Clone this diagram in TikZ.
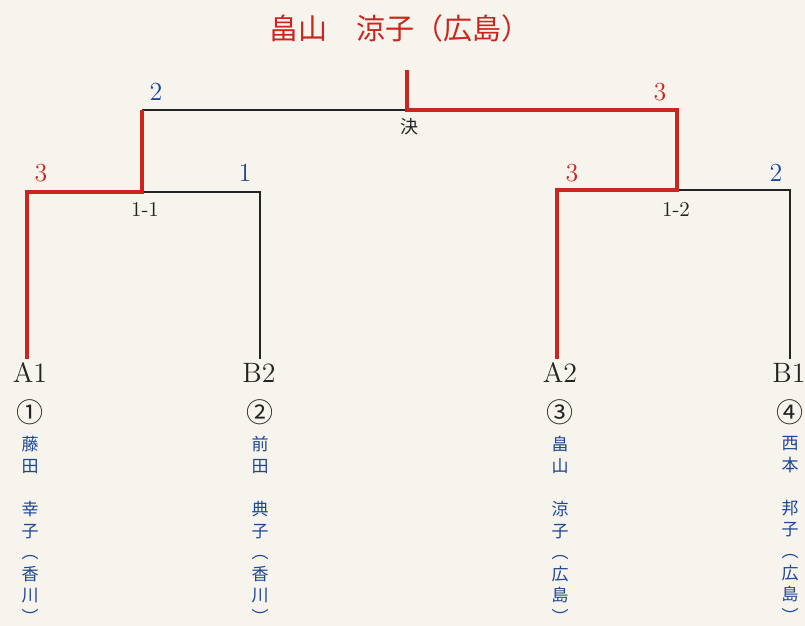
\documentclass[tikz,border=0pt]{standalone}
\usepackage{fontspec}
\newfontfamily\jfont{Noto Sans CJK JP}
\usetikzlibrary{positioning,calc}
\definecolor{paper}{RGB}{246,244,236}
\definecolor{winred}{RGB}{204,36,30}
\definecolor{ink}{RGB}{35,35,35}
\definecolor{pblue}{RGB}{28,70,150}
\tikzset{
  win/.style={draw=winred,line width=2.1pt},
  lose/.style={draw=ink,line width=0.9pt},
  seed/.style={font=\fontsize{14}{16}\selectfont,text=ink,inner sep=2pt},
  nummark/.style={font=\jfont\fontsize{13.5}{15}\selectfont,text=ink,inner sep=0pt},
  vname/.style={font=\jfont\fontsize{8.5}{10.8}\selectfont,text=pblue,align=center,inner sep=0pt,anchor=north},
  wscore/.style={font=\fontsize{13}{15}\selectfont,text=winred,inner sep=0pt},
  lscore/.style={font=\fontsize{13}{15}\selectfont,text=pblue,inner sep=0pt},
  rnd/.style={font=\fontsize{10.5}{12}\selectfont,text=ink,inner sep=0pt},
}

\begin{document}
\begin{tikzpicture}[x=0.5pt,y=-0.5pt]
\fill[paper] (0,0) rectangle (805,626);
\useasboundingbox (0,0) rectangle (805,626);
% champion
\node[font=\jfont\fontsize{14.5}{16}\selectfont,text=winred] (champ) at (400,28) {畠山　涼子（広島）};
% players
\node[seed] (pA1) at (30,373) {A1};
\node[seed] (pB2) at (259,373) {B2};
\node[seed] (pA2) at (560,373) {A2};
\node[seed] (pB1) at (789,373) {B1};
\foreach \p/\m/\x in {A1/①/30,B2/②/260,A2/③/560,B1/④/790}{
  \node[nummark] (m\p) at (\x,412) {\m};
}
\node[vname] (nA1) at (30,436) {藤\\田\\\mbox{}\\幸\\子\\︵\\香\\川\\︶};
\node[vname] (nB2) at (260,436) {前\\田\\\mbox{}\\典\\子\\︵\\香\\川\\︶};
\node[vname] (nA2) at (560,436) {畠\\山\\\mbox{}\\涼\\子\\︵\\広\\島\\︶};
\node[vname] (nB1) at (790,436) {西\\本\\\mbox{}\\邦\\子\\︵\\広\\島\\︶};
% bracket joints
\coordinate (top) at (407,70);
\coordinate (fin) at (407,110);
\coordinate (finL) at (142,110);
\coordinate (finR) at (677,110);
\coordinate (s1) at (142,192);
\coordinate (s1L) at (27,192);
\coordinate (s1R) at (260,192);
\coordinate (s2) at (677,190);
\coordinate (s2L) at (557,190);
\coordinate (s2R) at (790,190);
% losing lines
\draw[lose] (fin) -- (finL);
\draw[lose] (s1) -- (s1R) -- (s1R |- pB2.north);
\draw[lose] (s2) -- (s2R) -- (s2R |- pB1.north);
% winning path
\draw[win] (s1L |- pA1.north) -- (s1L) -- (s1) -- (finL);
\draw[win] (s2L |- pA2.north) -- (s2L) -- (s2) -- (finR) -- (fin) -- (top);
% scores and round names
\node[lscore] (sc1) at (156,92) {2};
\node[wscore] (sc2) at (660,92) {3};
\node[wscore] (sc3) at (41,173) {3};
\node[lscore] (sc4) at (245,173) {1};
\node[wscore] (sc5) at (572,173) {3};
\node[lscore] (sc6) at (776,173) {2};
\node[font=\jfont\fontsize{9}{11}\selectfont,text=ink,inner sep=0pt] (kf) at (409,127) {決};
\node[rnd] (r1) at (145,210) {1-1};
\node[rnd] (r2) at (676,210) {1-2};
\end{tikzpicture}
\end{document}
